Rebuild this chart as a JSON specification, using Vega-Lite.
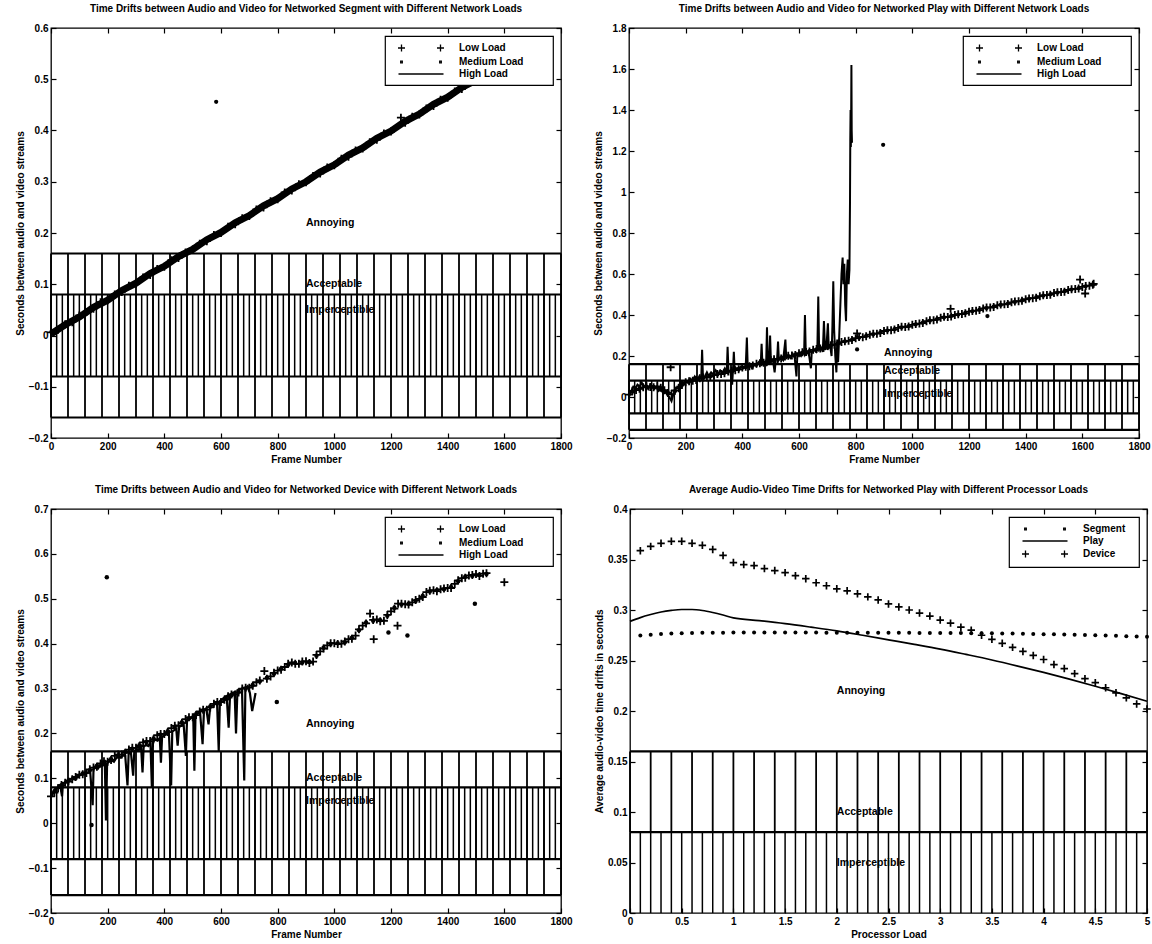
{
  "$schema": "https://vega.github.io/schema/vega-lite/v6.json",
  "background": "white",
  "padding": {"left": 14, "top": 3, "right": 0, "bottom": 0},
  "config": {
    "font": "Liberation Sans",
    "view": {"stroke": "black", "strokeWidth": 1.3},
    "axis": {
      "domain": false, "grid": false, "ticks": true, "tickSize": -5, "tickColor": "black", "tickWidth": 1.2,
      "labelFont": "Liberation Sans", "labelFontSize": 10, "labelFontWeight": "bold", "labelColor": "black",
      "labelPadding": 8, "labelFlush": false, "labelOverlap": false,
      "titleFont": "Liberation Sans", "titleFontSize": 10, "titleFontWeight": "bold", "titleColor": "black", "titlePadding": 3
    },
    "title": {"font": "Liberation Sans", "fontSize": 10, "fontWeight": "bold", "color": "black", "frame": "group", "anchor": "middle", "offset": 9},
    "legend": {
      "orient": "top-right", "offset": 8, "strokeColor": "black", "strokeWidth": 1.2, "fillColor": "white",
      "padding": 6, "rowPadding": 1, "symbolSize": 100, "symbolOffset": 24, "labelOffset": 32,
      "labelFont": "Liberation Sans", "labelFontSize": 10, "labelFontWeight": "bold", "labelColor": "black",
      "symbolStrokeWidth": 1.3, "symbolFillColor": "black", "symbolStrokeColor": "black",
      "titleOrient": "right", "titleFontSize": 10
    }
  },
  "datasets": {
    "fine1800": [{"f":0},{"f":20},{"f":40},{"f":60},{"f":80},{"f":100},{"f":120},{"f":140},{"f":160},{"f":180},{"f":200},{"f":220},{"f":240},{"f":260},{"f":280},{"f":300},{"f":320},{"f":340},{"f":360},{"f":380},{"f":400},{"f":420},{"f":440},{"f":460},{"f":480},{"f":500},{"f":520},{"f":540},{"f":560},{"f":580},{"f":600},{"f":620},{"f":640},{"f":660},{"f":680},{"f":700},{"f":720},{"f":740},{"f":760},{"f":780},{"f":800},{"f":820},{"f":840},{"f":860},{"f":880},{"f":900},{"f":920},{"f":940},{"f":960},{"f":980},{"f":1000},{"f":1020},{"f":1040},{"f":1060},{"f":1080},{"f":1100},{"f":1120},{"f":1140},{"f":1160},{"f":1180},{"f":1200},{"f":1220},{"f":1240},{"f":1260},{"f":1280},{"f":1300},{"f":1320},{"f":1340},{"f":1360},{"f":1380},{"f":1400},{"f":1420},{"f":1440},{"f":1460},{"f":1480},{"f":1500},{"f":1520},{"f":1540},{"f":1560},{"f":1580},{"f":1600},{"f":1620},{"f":1640},{"f":1660},{"f":1680},{"f":1700},{"f":1720},{"f":1740},{"f":1760},{"f":1780},{"f":1800}],
    "coarse1800": [{"f":0},{"f":60},{"f":120},{"f":180},{"f":240},{"f":300},{"f":360},{"f":420},{"f":480},{"f":540},{"f":600},{"f":660},{"f":720},{"f":780},{"f":840},{"f":900},{"f":960},{"f":1020},{"f":1080},{"f":1140},{"f":1200},{"f":1260},{"f":1320},{"f":1380},{"f":1440},{"f":1500},{"f":1560},{"f":1620},{"f":1680},{"f":1740},{"f":1800}],
    "fine5": [{"p":0},{"p":0.1},{"p":0.2},{"p":0.3},{"p":0.4},{"p":0.5},{"p":0.6},{"p":0.7},{"p":0.8},{"p":0.9},{"p":1},{"p":1.1},{"p":1.2},{"p":1.3},{"p":1.4},{"p":1.5},{"p":1.6},{"p":1.7},{"p":1.8},{"p":1.9},{"p":2},{"p":2.1},{"p":2.2},{"p":2.3},{"p":2.4},{"p":2.5},{"p":2.6},{"p":2.7},{"p":2.8},{"p":2.9},{"p":3},{"p":3.1},{"p":3.2},{"p":3.3},{"p":3.4},{"p":3.5},{"p":3.6},{"p":3.7},{"p":3.8},{"p":3.9},{"p":4},{"p":4.1},{"p":4.2},{"p":4.3},{"p":4.4},{"p":4.5},{"p":4.6},{"p":4.7},{"p":4.8},{"p":4.9},{"p":5}],
    "coarse5": [{"p":0},{"p":0.2},{"p":0.4},{"p":0.6},{"p":0.8},{"p":1},{"p":1.2},{"p":1.4},{"p":1.6},{"p":1.8},{"p":2},{"p":2.2},{"p":2.4},{"p":2.6},{"p":2.8},{"p":3},{"p":3.2},{"p":3.4},{"p":3.6},{"p":3.8},{"p":4},{"p":4.2},{"p":4.4},{"p":4.6},{"p":4.8},{"p":5}],
    "seg_low": [{"f":0,"v":0.006},{"f":25,"v":0.011},{"f":50,"v":0.022},{"f":75,"v":0.026},{"f":100,"v":0.039},{"f":125,"v":0.046},{"f":150,"v":0.052},{"f":175,"v":0.065},{"f":200,"v":0.069},{"f":225,"v":0.08},{"f":250,"v":0.085},{"f":275,"v":0.097},{"f":300,"v":0.101},{"f":325,"v":0.113},{"f":350,"v":0.118},{"f":375,"v":0.13},{"f":400,"v":0.134},{"f":425,"v":0.147},{"f":450,"v":0.151},{"f":475,"v":0.162},{"f":500,"v":0.168},{"f":525,"v":0.179},{"f":550,"v":0.184},{"f":575,"v":0.196},{"f":600,"v":0.2},{"f":625,"v":0.212},{"f":650,"v":0.217},{"f":675,"v":0.229},{"f":700,"v":0.233},{"f":725,"v":0.246},{"f":750,"v":0.25},{"f":775,"v":0.262},{"f":800,"v":0.266},{"f":825,"v":0.279},{"f":850,"v":0.283},{"f":875,"v":0.295},{"f":900,"v":0.299},{"f":925,"v":0.311},{"f":950,"v":0.316},{"f":975,"v":0.328},{"f":1000,"v":0.332},{"f":1025,"v":0.345},{"f":1050,"v":0.349},{"f":1075,"v":0.361},{"f":1100,"v":0.365},{"f":1125,"v":0.377},{"f":1150,"v":0.382},{"f":1175,"v":0.394},{"f":1200,"v":0.398},{"f":1235,"v":0.425},{"f":1250,"v":0.415},{"f":1275,"v":0.427},{"f":1300,"v":0.431},{"f":1325,"v":0.443},{"f":1350,"v":0.448},{"f":1375,"v":0.46},{"f":1400,"v":0.464},{"f":1425,"v":0.476},{"f":1450,"v":0.481},{"f":1475,"v":0.493},{"f":1500,"v":0.497},{"f":1525,"v":0.509},{"f":1550,"v":0.514},{"f":1575,"v":0.526},{"f":1600,"v":0.53},{"f":1625,"v":0.542}],
    "seg_med": [{"f":12,"v":0.006},{"f":37,"v":0.017},{"f":62,"v":0.023},{"f":87,"v":0.034},{"f":112,"v":0.04},{"f":137,"v":0.051},{"f":162,"v":0.056},{"f":187,"v":0.067},{"f":212,"v":0.073},{"f":237,"v":0.084},{"f":262,"v":0.089},{"f":287,"v":0.1},{"f":312,"v":0.106},{"f":337,"v":0.117},{"f":362,"v":0.122},{"f":387,"v":0.134},{"f":412,"v":0.139},{"f":437,"v":0.15},{"f":462,"v":0.155},{"f":487,"v":0.167},{"f":512,"v":0.172},{"f":537,"v":0.183},{"f":562,"v":0.188},{"f":583,"v":0.456},{"f":587,"v":0.199},{"f":612,"v":0.205},{"f":637,"v":0.216},{"f":662,"v":0.221},{"f":687,"v":0.232},{"f":712,"v":0.238},{"f":737,"v":0.249},{"f":762,"v":0.254},{"f":787,"v":0.265},{"f":812,"v":0.271},{"f":837,"v":0.282},{"f":862,"v":0.287},{"f":887,"v":0.298},{"f":912,"v":0.304},{"f":937,"v":0.315},{"f":962,"v":0.32},{"f":987,"v":0.331},{"f":1012,"v":0.337},{"f":1037,"v":0.348},{"f":1062,"v":0.353},{"f":1087,"v":0.364},{"f":1112,"v":0.37},{"f":1137,"v":0.381},{"f":1162,"v":0.386},{"f":1187,"v":0.397},{"f":1212,"v":0.403},{"f":1237,"v":0.414},{"f":1262,"v":0.419},{"f":1287,"v":0.43},{"f":1312,"v":0.436},{"f":1337,"v":0.447},{"f":1362,"v":0.452},{"f":1387,"v":0.463},{"f":1412,"v":0.469},{"f":1437,"v":0.48},{"f":1462,"v":0.485},{"f":1487,"v":0.496},{"f":1512,"v":0.502},{"f":1537,"v":0.513},{"f":1562,"v":0.518},{"f":1587,"v":0.529},{"f":1612,"v":0.535}],
    "seg_high": [{"f":0,"v":0.003},{"f":50,"v":0.021},{"f":100,"v":0.036},{"f":150,"v":0.055},{"f":200,"v":0.069},{"f":250,"v":0.088},{"f":300,"v":0.102},{"f":350,"v":0.121},{"f":400,"v":0.135},{"f":450,"v":0.154},{"f":500,"v":0.168},{"f":550,"v":0.187},{"f":600,"v":0.201},{"f":650,"v":0.22},{"f":700,"v":0.234},{"f":750,"v":0.253},{"f":800,"v":0.267},{"f":850,"v":0.286},{"f":900,"v":0.3},{"f":950,"v":0.319},{"f":1000,"v":0.333},{"f":1050,"v":0.352},{"f":1100,"v":0.366},{"f":1150,"v":0.385},{"f":1200,"v":0.399},{"f":1250,"v":0.418},{"f":1300,"v":0.432},{"f":1350,"v":0.451},{"f":1400,"v":0.465},{"f":1450,"v":0.484},{"f":1500,"v":0.498},{"f":1550,"v":0.517},{"f":1600,"v":0.531},{"f":1620,"v":0.539}],
    "play_low": [{"f":0,"v":0.012},{"f":25,"v":0.034},{"f":50,"v":0.047},{"f":75,"v":0.049},{"f":100,"v":0.052},{"f":125,"v":0.033},{"f":147,"v":0.145},{"f":150,"v":0.014},{"f":175,"v":0.043},{"f":200,"v":0.072},{"f":225,"v":0.079},{"f":250,"v":0.092},{"f":275,"v":0.096},{"f":300,"v":0.107},{"f":325,"v":0.112},{"f":350,"v":0.124},{"f":375,"v":0.131},{"f":400,"v":0.144},{"f":425,"v":0.15},{"f":450,"v":0.162},{"f":475,"v":0.167},{"f":500,"v":0.18},{"f":525,"v":0.185},{"f":550,"v":0.197},{"f":575,"v":0.202},{"f":600,"v":0.214},{"f":625,"v":0.219},{"f":650,"v":0.23},{"f":675,"v":0.236},{"f":700,"v":0.249},{"f":725,"v":0.255},{"f":750,"v":0.268},{"f":775,"v":0.274},{"f":800,"v":0.287},{"f":805,"v":0.31},{"f":825,"v":0.292},{"f":850,"v":0.304},{"f":875,"v":0.309},{"f":900,"v":0.322},{"f":925,"v":0.326},{"f":950,"v":0.337},{"f":975,"v":0.341},{"f":1000,"v":0.352},{"f":1025,"v":0.358},{"f":1050,"v":0.37},{"f":1075,"v":0.375},{"f":1100,"v":0.386},{"f":1125,"v":0.39},{"f":1135,"v":0.43},{"f":1150,"v":0.4},{"f":1175,"v":0.405},{"f":1200,"v":0.416},{"f":1225,"v":0.421},{"f":1250,"v":0.432},{"f":1275,"v":0.436},{"f":1300,"v":0.447},{"f":1325,"v":0.452},{"f":1350,"v":0.462},{"f":1375,"v":0.467},{"f":1400,"v":0.477},{"f":1425,"v":0.482},{"f":1450,"v":0.492},{"f":1475,"v":0.497},{"f":1500,"v":0.507},{"f":1525,"v":0.512},{"f":1550,"v":0.522},{"f":1575,"v":0.527},{"f":1592,"v":0.573},{"f":1600,"v":0.537},{"f":1610,"v":0.505},{"f":1625,"v":0.543},{"f":1640,"v":0.552},
      {"f":12,"v":0.03},{"f":37,"v":0.04},{"f":62,"v":0.052},{"f":87,"v":0.047},{"f":112,"v":0.045},{"f":137,"v":0.02},{"f":162,"v":0.032},{"f":187,"v":0.06},{"f":212,"v":0.077},{"f":237,"v":0.083},{"f":262,"v":0.095},{"f":287,"v":0.099},{"f":312,"v":0.112},{"f":337,"v":0.116},{"f":362,"v":0.128},{"f":387,"v":0.135},{"f":412,"v":0.148},{"f":437,"v":0.154},{"f":462,"v":0.165},{"f":487,"v":0.172},{"f":512,"v":0.184},{"f":537,"v":0.188},{"f":562,"v":0.201},{"f":587,"v":0.205},{"f":612,"v":0.218},{"f":637,"v":0.222},{"f":662,"v":0.234},{"f":687,"v":0.24},{"f":712,"v":0.253},{"f":737,"v":0.259},{"f":762,"v":0.272},{"f":787,"v":0.278},{"f":812,"v":0.293},{"f":837,"v":0.296},{"f":862,"v":0.309},{"f":887,"v":0.312},{"f":912,"v":0.326},{"f":937,"v":0.329},{"f":962,"v":0.343},{"f":987,"v":0.344},{"f":1012,"v":0.356},{"f":1037,"v":0.361},{"f":1062,"v":0.374},{"f":1087,"v":0.378},{"f":1112,"v":0.391},{"f":1137,"v":0.393},{"f":1162,"v":0.404},{"f":1187,"v":0.408},{"f":1212,"v":0.42},{"f":1237,"v":0.424},{"f":1262,"v":0.437},{"f":1287,"v":0.439},{"f":1312,"v":0.451},{"f":1337,"v":0.454},{"f":1362,"v":0.466},{"f":1387,"v":0.469},{"f":1412,"v":0.481},{"f":1437,"v":0.484},{"f":1462,"v":0.496},{"f":1487,"v":0.499},{"f":1512,"v":0.511},{"f":1537,"v":0.514},{"f":1562,"v":0.526},{"f":1587,"v":0.529},{"f":1612,"v":0.542},{"f":1637,"v":0.547}],
    "play_med": [{"f":12,"v":0.026},{"f":37,"v":0.042},{"f":62,"v":0.05},{"f":87,"v":0.049},{"f":112,"v":0.043},{"f":137,"v":0.022},{"f":162,"v":0.028},{"f":187,"v":0.058},{"f":212,"v":0.075},{"f":237,"v":0.085},{"f":262,"v":0.093},{"f":287,"v":0.101},{"f":312,"v":0.11},{"f":337,"v":0.118},{"f":362,"v":0.126},{"f":387,"v":0.137},{"f":412,"v":0.146},{"f":437,"v":0.156},{"f":462,"v":0.163},{"f":487,"v":0.174},{"f":512,"v":0.182},{"f":537,"v":0.19},{"f":562,"v":0.199},{"f":587,"v":0.207},{"f":612,"v":0.216},{"f":637,"v":0.224},{"f":662,"v":0.232},{"f":687,"v":0.242},{"f":712,"v":0.251},{"f":737,"v":0.261},{"f":762,"v":0.271},{"f":787,"v":0.28},{"f":805,"v":0.232},{"f":812,"v":0.289},{"f":837,"v":0.298},{"f":862,"v":0.306},{"f":887,"v":0.315},{"f":897,"v":1.23},{"f":912,"v":0.324},{"f":937,"v":0.331},{"f":962,"v":0.339},{"f":987,"v":0.346},{"f":1012,"v":0.354},{"f":1037,"v":0.363},{"f":1062,"v":0.372},{"f":1087,"v":0.38},{"f":1112,"v":0.388},{"f":1137,"v":0.395},{"f":1162,"v":0.402},{"f":1187,"v":0.41},{"f":1212,"v":0.418},{"f":1237,"v":0.426},{"f":1262,"v":0.434},{"f":1265,"v":0.395},{"f":1287,"v":0.441},{"f":1312,"v":0.449},{"f":1337,"v":0.456},{"f":1362,"v":0.464},{"f":1387,"v":0.471},{"f":1412,"v":0.479},{"f":1437,"v":0.486},{"f":1462,"v":0.494},{"f":1487,"v":0.501},{"f":1512,"v":0.509},{"f":1537,"v":0.516},{"f":1562,"v":0.524},{"f":1587,"v":0.531},{"f":1612,"v":0.54},{"f":1637,"v":0.549}],
    "play_high": [{"f":0,"v":0},{"f":8,"v":0.03},{"f":15,"v":0.05},{"f":22,"v":0.04},{"f":30,"v":0.06},{"f":38,"v":0.05},{"f":45,"v":0.07},{"f":52,"v":0.05},{"f":60,"v":0.06},{"f":68,"v":0.04},{"f":75,"v":0.06},{"f":82,"v":0.05},{"f":90,"v":0.04},{"f":98,"v":0.05},{"f":105,"v":0.03},{"f":112,"v":0.04},{"f":120,"v":0.02},{"f":128,"v":0.03},{"f":135,"v":0.01},{"f":142,"v":0},{"f":150,"v":-0.02},{"f":156,"v":0.01},{"f":162,"v":0.03},{"f":170,"v":0.05},{"f":178,"v":0.04},{"f":185,"v":0.07},{"f":192,"v":0.06},{"f":200,"v":0.08},{"f":208,"v":0.07},{"f":216,"v":0.09},{"f":224,"v":0.08},{"f":232,"v":0.1},{"f":240,"v":0.08},{"f":248,"v":0.1},{"f":255,"v":0.09},{"f":258,"v":0.23},{"f":261,"v":0.1},{"f":268,"v":0.1},{"f":275,"v":0.12},{"f":282,"v":0.1},{"f":290,"v":0.12},{"f":298,"v":0.11},{"f":306,"v":0.13},{"f":314,"v":0.11},{"f":322,"v":0.13},{"f":330,"v":0.12},{"f":338,"v":0.14},{"f":345,"v":0.12},{"f":348,"v":0.245},{"f":351,"v":0.13},{"f":358,"v":0.12},{"f":364,"v":0.06},{"f":367,"v":0.13},{"f":370,"v":0.22},{"f":373,"v":0.13},{"f":380,"v":0.14},{"f":388,"v":0.13},{"f":396,"v":0.15},{"f":404,"v":0.14},{"f":412,"v":0.15},{"f":416,"v":0.29},{"f":419,"v":0.15},{"f":426,"v":0.16},{"f":434,"v":0.14},{"f":442,"v":0.16},{"f":450,"v":0.15},{"f":458,"v":0.17},{"f":465,"v":0.16},{"f":468,"v":0.26},{"f":471,"v":0.16},{"f":478,"v":0.17},{"f":484,"v":0.16},{"f":487,"v":0.34},{"f":490,"v":0.17},{"f":495,"v":0.17},{"f":498,"v":0.3},{"f":501,"v":0.17},{"f":508,"v":0.18},{"f":514,"v":0.12},{"f":518,"v":0.18},{"f":523,"v":0.19},{"f":526,"v":0.27},{"f":529,"v":0.18},{"f":536,"v":0.19},{"f":544,"v":0.18},{"f":552,"v":0.28},{"f":555,"v":0.19},{"f":562,"v":0.2},{"f":570,"v":0.19},{"f":578,"v":0.21},{"f":585,"v":0.19},{"f":591,"v":0.1},{"f":594,"v":0.2},{"f":600,"v":0.21},{"f":607,"v":0.2},{"f":614,"v":0.22},{"f":618,"v":0.21},{"f":621,"v":0.4},{"f":624,"v":0.21},{"f":630,"v":0.22},{"f":636,"v":0.2},{"f":642,"v":0.14},{"f":645,"v":0.22},{"f":652,"v":0.23},{"f":660,"v":0.22},{"f":665,"v":0.25},{"f":668,"v":0.49},{"f":671,"v":0.23},{"f":678,"v":0.24},{"f":684,"v":0.22},{"f":688,"v":0.37},{"f":692,"v":0.23},{"f":697,"v":0.25},{"f":702,"v":0.36},{"f":705,"v":0.24},{"f":710,"v":0.25},{"f":715,"v":0.2},{"f":718,"v":0.35},{"f":721,"v":0.565},{"f":724,"v":0.33},{"f":728,"v":0.2},{"f":732,"v":0.12},{"f":735,"v":0.28},{"f":738,"v":0.17},{"f":742,"v":0.3},{"f":746,"v":0.45},{"f":750,"v":0.6},{"f":754,"v":0.68},{"f":757,"v":0.55},{"f":760,"v":0.65},{"f":763,"v":0.45},{"f":766,"v":0.37},{"f":769,"v":0.6},{"f":772,"v":0.67},{"f":775,"v":0.55},{"f":778,"v":0.62},{"f":780,"v":0.95},{"f":781,"v":1.25},{"f":782,"v":1.4},{"f":783,"v":1.22},{"f":784,"v":1.35},{"f":785,"v":1.62},{"f":786,"v":1.3},{"f":787,"v":1.24}],
    "dev_low": [{"f":0,"v":0.06},{"f":25,"v":0.078},{"f":50,"v":0.09},{"f":75,"v":0.098},{"f":100,"v":0.108},{"f":125,"v":0.112},{"f":150,"v":0.124},{"f":175,"v":0.133},{"f":200,"v":0.137},{"f":225,"v":0.15},{"f":250,"v":0.153},{"f":275,"v":0.164},{"f":300,"v":0.168},{"f":325,"v":0.18},{"f":350,"v":0.183},{"f":375,"v":0.196},{"f":400,"v":0.199},{"f":425,"v":0.212},{"f":450,"v":0.218},{"f":475,"v":0.232},{"f":500,"v":0.236},{"f":525,"v":0.249},{"f":550,"v":0.253},{"f":575,"v":0.266},{"f":600,"v":0.27},{"f":625,"v":0.283},{"f":650,"v":0.287},{"f":675,"v":0.3},{"f":700,"v":0.302},{"f":725,"v":0.314},{"f":753,"v":0.339},{"f":775,"v":0.327},{"f":800,"v":0.34},{"f":825,"v":0.348},{"f":850,"v":0.358},{"f":875,"v":0.355},{"f":900,"v":0.361},{"f":925,"v":0.36},{"f":950,"v":0.383},{"f":975,"v":0.396},{"f":1000,"v":0.401},{"f":1025,"v":0.4},{"f":1050,"v":0.41},{"f":1075,"v":0.418},{"f":1100,"v":0.44},{"f":1126,"v":0.467},{"f":1139,"v":0.41},{"f":1150,"v":0.454},{"f":1175,"v":0.451},{"f":1200,"v":0.472},{"f":1223,"v":0.44},{"f":1225,"v":0.489},{"f":1250,"v":0.488},{"f":1275,"v":0.492},{"f":1300,"v":0.5},{"f":1325,"v":0.515},{"f":1350,"v":0.519},{"f":1375,"v":0.521},{"f":1400,"v":0.524},{"f":1425,"v":0.533},{"f":1450,"v":0.546},{"f":1475,"v":0.552},{"f":1500,"v":0.555},{"f":1525,"v":0.556},{"f":1600,"v":0.537},
      {"f":12,"v":0.068},{"f":37,"v":0.085},{"f":62,"v":0.093},{"f":87,"v":0.103},{"f":112,"v":0.109},{"f":137,"v":0.12},{"f":162,"v":0.126},{"f":187,"v":0.138},{"f":212,"v":0.141},{"f":237,"v":0.153},{"f":262,"v":0.157},{"f":287,"v":0.168},{"f":312,"v":0.172},{"f":337,"v":0.183},{"f":362,"v":0.187},{"f":387,"v":0.199},{"f":412,"v":0.203},{"f":437,"v":0.217},{"f":462,"v":0.223},{"f":487,"v":0.236},{"f":512,"v":0.241},{"f":537,"v":0.253},{"f":562,"v":0.258},{"f":587,"v":0.27},{"f":612,"v":0.275},{"f":637,"v":0.287},{"f":662,"v":0.291},{"f":687,"v":0.302},{"f":712,"v":0.306},{"f":737,"v":0.318},{"f":762,"v":0.322},{"f":787,"v":0.335},{"f":812,"v":0.342},{"f":837,"v":0.355},{"f":862,"v":0.355},{"f":887,"v":0.36},{"f":912,"v":0.357},{"f":937,"v":0.375},{"f":962,"v":0.389},{"f":987,"v":0.401},{"f":1012,"v":0.399},{"f":1037,"v":0.405},{"f":1062,"v":0.411},{"f":1087,"v":0.432},{"f":1112,"v":0.445},{"f":1137,"v":0.453},{"f":1162,"v":0.45},{"f":1187,"v":0.464},{"f":1212,"v":0.478},{"f":1237,"v":0.489},{"f":1262,"v":0.487},{"f":1287,"v":0.497},{"f":1312,"v":0.504},{"f":1337,"v":0.518},{"f":1362,"v":0.517},{"f":1387,"v":0.523},{"f":1412,"v":0.524},{"f":1437,"v":0.541},{"f":1462,"v":0.547},{"f":1487,"v":0.553},{"f":1512,"v":0.551},{"f":1537,"v":0.557}],
    "dev_med": [{"f":12,"v":0.071},{"f":37,"v":0.082},{"f":62,"v":0.095},{"f":87,"v":0.101},{"f":112,"v":0.111},{"f":137,"v":0.118},{"f":143,"v":-0.004},{"f":162,"v":0.128},{"f":187,"v":0.136},{"f":197,"v":0.548},{"f":212,"v":0.143},{"f":237,"v":0.151},{"f":262,"v":0.159},{"f":287,"v":0.166},{"f":312,"v":0.174},{"f":337,"v":0.181},{"f":362,"v":0.189},{"f":387,"v":0.197},{"f":412,"v":0.205},{"f":437,"v":0.215},{"f":462,"v":0.225},{"f":487,"v":0.234},{"f":512,"v":0.243},{"f":537,"v":0.251},{"f":562,"v":0.26},{"f":587,"v":0.268},{"f":612,"v":0.277},{"f":637,"v":0.285},{"f":662,"v":0.293},{"f":687,"v":0.3},{"f":712,"v":0.308},{"f":737,"v":0.316},{"f":762,"v":0.324},{"f":787,"v":0.333},{"f":797,"v":0.27},{"f":812,"v":0.344},{"f":837,"v":0.353},{"f":862,"v":0.357},{"f":887,"v":0.358},{"f":912,"v":0.359},{"f":937,"v":0.373},{"f":962,"v":0.391},{"f":987,"v":0.399},{"f":1012,"v":0.401},{"f":1037,"v":0.403},{"f":1062,"v":0.413},{"f":1087,"v":0.43},{"f":1112,"v":0.447},{"f":1137,"v":0.451},{"f":1162,"v":0.452},{"f":1187,"v":0.462},{"f":1191,"v":0.425},{"f":1212,"v":0.48},{"f":1237,"v":0.487},{"f":1258,"v":0.418},{"f":1262,"v":0.489},{"f":1287,"v":0.495},{"f":1312,"v":0.506},{"f":1337,"v":0.516},{"f":1362,"v":0.519},{"f":1387,"v":0.521},{"f":1412,"v":0.526},{"f":1437,"v":0.539},{"f":1462,"v":0.549},{"f":1487,"v":0.551},{"f":1496,"v":0.489},{"f":1512,"v":0.553},{"f":1537,"v":0.555}],
    "dev_high": [{"f":0,"v":0.058},{"f":8,"v":0.068},{"f":16,"v":0.075},{"f":24,"v":0.08},{"f":32,"v":0.085},{"f":39,"v":0.06},{"f":42,"v":0.088},{"f":50,"v":0.092},{"f":58,"v":0.095},{"f":66,"v":0.097},{"f":74,"v":0.1},{"f":82,"v":0.098},{"f":90,"v":0.104},{"f":98,"v":0.106},{"f":106,"v":0.108},{"f":114,"v":0.11},{"f":122,"v":0.114},{"f":130,"v":0.112},{"f":138,"v":0.118},{"f":147,"v":0.04},{"f":150,"v":0.12},{"f":158,"v":0.125},{"f":166,"v":0.122},{"f":174,"v":0.13},{"f":182,"v":0.128},{"f":190,"v":0.135},{"f":194,"v":0.006},{"f":198,"v":0.133},{"f":206,"v":0.138},{"f":214,"v":0.14},{"f":222,"v":0.137},{"f":230,"v":0.145},{"f":238,"v":0.148},{"f":246,"v":0.146},{"f":254,"v":0.152},{"f":262,"v":0.15},{"f":270,"v":0.084},{"f":274,"v":0.155},{"f":282,"v":0.158},{"f":290,"v":0.106},{"f":294,"v":0.16},{"f":302,"v":0.165},{"f":310,"v":0.163},{"f":318,"v":0.17},{"f":323,"v":0.113},{"f":327,"v":0.17},{"f":335,"v":0.175},{"f":343,"v":0.172},{"f":351,"v":0.18},{"f":356,"v":0.08},{"f":360,"v":0.182},{"f":368,"v":0.186},{"f":376,"v":0.184},{"f":384,"v":0.19},{"f":388,"v":0.135},{"f":392,"v":0.192},{"f":400,"v":0.196},{"f":408,"v":0.198},{"f":416,"v":0.203},{"f":424,"v":0.084},{"f":428,"v":0.204},{"f":436,"v":0.208},{"f":442,"v":0.21},{"f":447,"v":0.173},{"f":452,"v":0.214},{"f":460,"v":0.218},{"f":468,"v":0.222},{"f":476,"v":0.15},{"f":480,"v":0.228},{"f":488,"v":0.232},{"f":496,"v":0.235},{"f":502,"v":0.24},{"f":506,"v":0.117},{"f":510,"v":0.24},{"f":518,"v":0.245},{"f":526,"v":0.248},{"f":535,"v":0.176},{"f":540,"v":0.252},{"f":548,"v":0.256},{"f":556,"v":0.22},{"f":562,"v":0.26},{"f":570,"v":0.262},{"f":578,"v":0.265},{"f":586,"v":0.27},{"f":592,"v":0.161},{"f":596,"v":0.272},{"f":604,"v":0.276},{"f":612,"v":0.279},{"f":620,"v":0.283},{"f":627,"v":0.213},{"f":632,"v":0.286},{"f":640,"v":0.29},{"f":648,"v":0.292},{"f":653,"v":0.2},{"f":658,"v":0.296},{"f":666,"v":0.298},{"f":674,"v":0.3},{"f":682,"v":0.095},{"f":686,"v":0.3},{"f":694,"v":0.305},{"f":702,"v":0.29},{"f":710,"v":0.25},{"f":716,"v":0.27},{"f":722,"v":0.29}],
    "proc_segment": [{"p":0.1,"v":0.2748},{"p":0.2,"v":0.2755},{"p":0.3,"v":0.2762},{"p":0.4,"v":0.2768},{"p":0.5,"v":0.2771},{"p":0.6,"v":0.2773},{"p":0.7,"v":0.2774},{"p":0.8,"v":0.2775},{"p":0.9,"v":0.2775},{"p":1,"v":0.2776},{"p":1.1,"v":0.2776},{"p":1.2,"v":0.2776},{"p":1.3,"v":0.2776},{"p":1.4,"v":0.2776},{"p":1.5,"v":0.2776},{"p":1.6,"v":0.2776},{"p":1.7,"v":0.2776},{"p":1.8,"v":0.2776},{"p":1.9,"v":0.2775},{"p":2,"v":0.2775},{"p":2.1,"v":0.2775},{"p":2.2,"v":0.2775},{"p":2.3,"v":0.2775},{"p":2.4,"v":0.2774},{"p":2.5,"v":0.2774},{"p":2.6,"v":0.2774},{"p":2.7,"v":0.2774},{"p":2.8,"v":0.2773},{"p":2.9,"v":0.2773},{"p":3,"v":0.2773},{"p":3.1,"v":0.2772},{"p":3.2,"v":0.2772},{"p":3.3,"v":0.2771},{"p":3.4,"v":0.277},{"p":3.5,"v":0.2769},{"p":3.6,"v":0.2768},{"p":3.7,"v":0.2767},{"p":3.8,"v":0.2765},{"p":3.9,"v":0.2763},{"p":4,"v":0.2761},{"p":4.1,"v":0.2759},{"p":4.2,"v":0.2757},{"p":4.3,"v":0.2755},{"p":4.4,"v":0.2752},{"p":4.5,"v":0.275},{"p":4.6,"v":0.2747},{"p":4.7,"v":0.2744},{"p":4.8,"v":0.2741},{"p":4.9,"v":0.2738},{"p":5,"v":0.2735}],
    "proc_play": [{"p":0,"v":0.2887},{"p":0.1,"v":0.2925},{"p":0.2,"v":0.2955},{"p":0.3,"v":0.298},{"p":0.4,"v":0.2996},{"p":0.5,"v":0.3005},{"p":0.6,"v":0.3005},{"p":0.7,"v":0.2995},{"p":0.8,"v":0.2975},{"p":0.9,"v":0.295},{"p":1,"v":0.2922},{"p":1.25,"v":0.2895},{"p":1.5,"v":0.2865},{"p":1.75,"v":0.283},{"p":2,"v":0.2793},{"p":2.25,"v":0.275},{"p":2.5,"v":0.2705},{"p":2.75,"v":0.266},{"p":3,"v":0.2613},{"p":3.25,"v":0.256},{"p":3.5,"v":0.2505},{"p":3.75,"v":0.2445},{"p":4,"v":0.2382},{"p":4.25,"v":0.2315},{"p":4.5,"v":0.2245},{"p":4.75,"v":0.2172},{"p":5,"v":0.2097}],
    "proc_device": [{"p":0.1,"v":0.3587},{"p":0.2,"v":0.363},{"p":0.3,"v":0.366},{"p":0.4,"v":0.368},{"p":0.5,"v":0.368},{"p":0.6,"v":0.366},{"p":0.7,"v":0.364},{"p":0.8,"v":0.36},{"p":0.9,"v":0.354},{"p":1,"v":0.347},{"p":1.1,"v":0.345},{"p":1.2,"v":0.344},{"p":1.3,"v":0.341},{"p":1.4,"v":0.339},{"p":1.5,"v":0.337},{"p":1.6,"v":0.334},{"p":1.7,"v":0.331},{"p":1.8,"v":0.327},{"p":1.9,"v":0.324},{"p":2,"v":0.321},{"p":2.1,"v":0.319},{"p":2.2,"v":0.316},{"p":2.3,"v":0.313},{"p":2.4,"v":0.31},{"p":2.5,"v":0.306},{"p":2.6,"v":0.303},{"p":2.7,"v":0.3},{"p":2.8,"v":0.297},{"p":2.9,"v":0.294},{"p":3,"v":0.29},{"p":3.1,"v":0.287},{"p":3.2,"v":0.283},{"p":3.3,"v":0.28},{"p":3.4,"v":0.275},{"p":3.5,"v":0.271},{"p":3.6,"v":0.267},{"p":3.7,"v":0.263},{"p":3.8,"v":0.259},{"p":3.9,"v":0.255},{"p":4,"v":0.251},{"p":4.1,"v":0.246},{"p":4.2,"v":0.242},{"p":4.3,"v":0.237},{"p":4.4,"v":0.232},{"p":4.5,"v":0.228},{"p":4.6,"v":0.223},{"p":4.7,"v":0.218},{"p":4.8,"v":0.213},{"p":4.9,"v":0.207},{"p":5,"v":0.202}]
  },
  "resolve": {"scale": {"shape": "independent"}, "legend": {"shape": "independent"}},
  "spacing": 19,
  "vconcat": [
    {
      "spacing": 19,
      "resolve": {"scale": {"shape": "independent"}, "legend": {"shape": "independent"}},
      "hconcat": [
        {
          "width": 510, "height": 410,
          "title": "Time Drifts between Audio and Video for Networked Segment with Different Network Loads",
          "resolve": {"axis": {"x": "independent", "y": "independent"}},
          "layer": [
            {"data": {"name": "fine1800"}, "mark": {"type": "rule", "color": "black", "strokeWidth": 1.5},
             "encoding": {
               "x": {"field": "f", "type": "quantitative", "scale": {"domain": [0, 1800], "nice": false}, "axis": {"values": [0,200,400,600,800,1000,1200,1400,1600,1800], "format": "~r", "title": "Frame Number"}},
               "y": {"datum": -0.08, "type": "quantitative", "scale": {"domain": [-0.2, 0.6], "nice": false}, "axis": {"values": [-0.2,-0.1,0,0.1,0.2,0.3,0.4,0.5,0.6], "format": "~r", "title": "Seconds between audio and video streams"}},
               "y2": {"datum": 0.08}}},
            {"data": {"name": "coarse1800"}, "mark": {"type": "rule", "color": "black", "strokeWidth": 1.8},
             "encoding": {
               "x": {"field": "f", "type": "quantitative", "axis": {"orient": "top", "values": [0,200,400,600,800,1000,1200,1400,1600,1800], "labels": false, "title": null}},
               "y": {"datum": -0.16, "type": "quantitative", "axis": {"orient": "right", "values": [-0.2,-0.1,0,0.1,0.2,0.3,0.4,0.5,0.6], "labels": false, "title": null}},
               "y2": {"datum": 0.16}}},
            {"data": {"values": [{"b": -0.16}, {"b": -0.08}, {"b": 0.08}, {"b": 0.16}]}, "mark": {"type": "rule", "color": "black", "strokeWidth": 2.2},
             "encoding": {"y": {"field": "b", "type": "quantitative", "axis": null}}},
            {"data": {"name": "seg_high"}, "mark": {"type": "line", "color": "black", "strokeWidth": 7},
             "encoding": {"x": {"field": "f", "type": "quantitative", "axis": null}, "y": {"field": "v", "type": "quantitative", "axis": null}}},
            {"data": {"name": "seg_med"}, "mark": {"type": "circle", "color": "black", "size": 18, "opacity": 1},
             "encoding": {"x": {"field": "f", "type": "quantitative", "axis": null}, "y": {"field": "v", "type": "quantitative", "axis": null}}},
            {"data": {"name": "seg_low"}, "mark": {"type": "point", "shape": "M-1,0H1M0,-1V1", "size": 64, "color": "black", "strokeWidth": 1.8, "opacity": 1},
             "encoding": {"x": {"field": "f", "type": "quantitative", "axis": null}, "y": {"field": "v", "type": "quantitative", "axis": null}}},
            {"data": {"values": [{}]}, "mark": {"type": "text", "text": "Annoying", "align": "left", "baseline": "middle", "fontSize": 10.5, "fontWeight": "bold", "color": "black"},
             "encoding": {"x": {"datum": 900, "type": "quantitative", "axis": null}, "y": {"datum": 0.22, "type": "quantitative", "axis": null}}},
            {"data": {"values": [{}]}, "mark": {"type": "text", "text": "Acceptable", "align": "left", "baseline": "middle", "fontSize": 10.5, "fontWeight": "bold", "color": "black"},
             "encoding": {"x": {"datum": 900, "type": "quantitative", "axis": null}, "y": {"datum": 0.1, "type": "quantitative", "axis": null}}},
            {"data": {"values": [{}]}, "mark": {"type": "text", "text": "Imperceptible", "align": "left", "baseline": "middle", "fontSize": 10.5, "fontWeight": "bold", "color": "black"},
             "encoding": {"x": {"datum": 900, "type": "quantitative", "axis": null}, "y": {"datum": 0.05, "type": "quantitative", "axis": null}}},
            {"data": {"values": [{"s": "Low Load"}, {"s": "Medium Load"}, {"s": "High Load"}]}, "transform": [{"filter": "false"}],
             "mark": {"type": "point", "filled": false, "stroke": "black", "strokeWidth": 1.3, "size": 100, "opacity": 1},
             "encoding": {"shape": {"field": "s", "type": "nominal",
               "scale": {"domain": ["Low Load", "Medium Load", "High Load"], "range": ["M-4.6,0H-3.2M-3.9,-0.7V0.7M3.2,0H4.6M3.9,-0.7V0.7", "M-4.06,-0.16h0.32v0.32h-0.32zM3.74,-0.16h0.32v0.32h-0.32z", "M-4.5,0H4.5"]},
               "legend": {"title": " ", "titlePadding": 24}}}}
          ]
        },
        {
          "width": 510, "height": 410,
          "title": "Time Drifts between Audio and Video for Networked Play with Different Network Loads",
          "resolve": {"axis": {"x": "independent", "y": "independent"}},
          "layer": [
            {"data": {"name": "fine1800"}, "mark": {"type": "rule", "color": "black", "strokeWidth": 1.5},
             "encoding": {
               "x": {"field": "f", "type": "quantitative", "scale": {"domain": [0, 1800], "nice": false}, "axis": {"values": [0,200,400,600,800,1000,1200,1400,1600,1800], "format": "~r", "title": "Frame Number"}},
               "y": {"datum": -0.08, "type": "quantitative", "scale": {"domain": [-0.2, 1.8], "nice": false}, "axis": {"values": [-0.2,0,0.2,0.4,0.6,0.8,1,1.2,1.4,1.6,1.8], "format": "~r", "title": "Seconds between audio and video streams"}},
               "y2": {"datum": 0.08}}},
            {"data": {"name": "coarse1800"}, "mark": {"type": "rule", "color": "black", "strokeWidth": 1.8},
             "encoding": {
               "x": {"field": "f", "type": "quantitative", "axis": {"orient": "top", "values": [0,200,400,600,800,1000,1200,1400,1600,1800], "labels": false, "title": null}},
               "y": {"datum": -0.16, "type": "quantitative", "axis": {"orient": "right", "values": [-0.2,0,0.2,0.4,0.6,0.8,1,1.2,1.4,1.6,1.8], "labels": false, "title": null}},
               "y2": {"datum": 0.16}}},
            {"data": {"values": [{"b": -0.16}, {"b": -0.08}, {"b": 0.08}, {"b": 0.16}]}, "mark": {"type": "rule", "color": "black", "strokeWidth": 2.2},
             "encoding": {"y": {"field": "b", "type": "quantitative", "axis": null}}},
            {"data": {"name": "play_high"}, "mark": {"type": "line", "color": "black", "strokeWidth": 2},
             "encoding": {"x": {"field": "f", "type": "quantitative", "axis": null}, "y": {"field": "v", "type": "quantitative", "axis": null}}},
            {"data": {"name": "play_med"}, "mark": {"type": "circle", "color": "black", "size": 18, "opacity": 1},
             "encoding": {"x": {"field": "f", "type": "quantitative", "axis": null}, "y": {"field": "v", "type": "quantitative", "axis": null}}},
            {"data": {"name": "play_low"}, "mark": {"type": "point", "shape": "M-1,0H1M0,-1V1", "size": 64, "color": "black", "strokeWidth": 1.8, "opacity": 1},
             "encoding": {"x": {"field": "f", "type": "quantitative", "axis": null}, "y": {"field": "v", "type": "quantitative", "axis": null}}},
            {"data": {"values": [{}]}, "mark": {"type": "text", "text": "Annoying", "align": "left", "baseline": "middle", "fontSize": 10.5, "fontWeight": "bold", "color": "black"},
             "encoding": {"x": {"datum": 900, "type": "quantitative", "axis": null}, "y": {"datum": 0.215, "type": "quantitative", "axis": null}}},
            {"data": {"values": [{}]}, "mark": {"type": "text", "text": "Acceptable", "align": "left", "baseline": "middle", "fontSize": 10.5, "fontWeight": "bold", "color": "black"},
             "encoding": {"x": {"datum": 900, "type": "quantitative", "axis": null}, "y": {"datum": 0.125, "type": "quantitative", "axis": null}}},
            {"data": {"values": [{}]}, "mark": {"type": "text", "text": "Imperceptible", "align": "left", "baseline": "middle", "fontSize": 10.5, "fontWeight": "bold", "color": "black"},
             "encoding": {"x": {"datum": 900, "type": "quantitative", "axis": null}, "y": {"datum": 0.015, "type": "quantitative", "axis": null}}},
            {"data": {"values": [{"s": "Low Load"}, {"s": "Medium Load"}, {"s": "High Load"}]}, "transform": [{"filter": "false"}],
             "mark": {"type": "point", "filled": false, "stroke": "black", "strokeWidth": 1.3, "size": 100, "opacity": 1},
             "encoding": {"shape": {"field": "s", "type": "nominal",
               "scale": {"domain": ["Low Load", "Medium Load", "High Load"], "range": ["M-4.6,0H-3.2M-3.9,-0.7V0.7M3.2,0H4.6M3.9,-0.7V0.7", "M-4.06,-0.16h0.32v0.32h-0.32zM3.74,-0.16h0.32v0.32h-0.32z", "M-4.5,0H4.5"]},
               "legend": {"title": " ", "titlePadding": 24}}}}
          ]
        }
      ]
    },
    {
      "spacing": 20,
      "resolve": {"scale": {"shape": "independent"}, "legend": {"shape": "independent"}},
      "hconcat": [
        {
          "width": 510, "height": 404,
          "title": "Time Drifts between Audio and Video for Networked Device with Different Network Loads",
          "resolve": {"axis": {"x": "independent", "y": "independent"}},
          "layer": [
            {"data": {"name": "fine1800"}, "mark": {"type": "rule", "color": "black", "strokeWidth": 1.5},
             "encoding": {
               "x": {"field": "f", "type": "quantitative", "scale": {"domain": [0, 1800], "nice": false}, "axis": {"values": [0,200,400,600,800,1000,1200,1400,1600,1800], "format": "~r", "title": "Frame Number"}},
               "y": {"datum": -0.08, "type": "quantitative", "scale": {"domain": [-0.2, 0.7], "nice": false}, "axis": {"values": [-0.2,-0.1,0,0.1,0.2,0.3,0.4,0.5,0.6,0.7], "format": "~r", "title": "Seconds between audio and video streams"}},
               "y2": {"datum": 0.08}}},
            {"data": {"name": "coarse1800"}, "mark": {"type": "rule", "color": "black", "strokeWidth": 1.8},
             "encoding": {
               "x": {"field": "f", "type": "quantitative", "axis": {"orient": "top", "values": [0,200,400,600,800,1000,1200,1400,1600,1800], "labels": false, "title": null}},
               "y": {"datum": -0.16, "type": "quantitative", "axis": {"orient": "right", "values": [-0.2,-0.1,0,0.1,0.2,0.3,0.4,0.5,0.6,0.7], "labels": false, "title": null}},
               "y2": {"datum": 0.16}}},
            {"data": {"values": [{"b": -0.16}, {"b": -0.08}, {"b": 0.08}, {"b": 0.16}]}, "mark": {"type": "rule", "color": "black", "strokeWidth": 2.2},
             "encoding": {"y": {"field": "b", "type": "quantitative", "axis": null}}},
            {"data": {"name": "dev_high"}, "mark": {"type": "line", "color": "black", "strokeWidth": 2.2},
             "encoding": {"x": {"field": "f", "type": "quantitative", "axis": null}, "y": {"field": "v", "type": "quantitative", "axis": null}}},
            {"data": {"name": "dev_med"}, "mark": {"type": "circle", "color": "black", "size": 20, "opacity": 1},
             "encoding": {"x": {"field": "f", "type": "quantitative", "axis": null}, "y": {"field": "v", "type": "quantitative", "axis": null}}},
            {"data": {"name": "dev_low"}, "mark": {"type": "point", "shape": "M-1,0H1M0,-1V1", "size": 64, "color": "black", "strokeWidth": 1.8, "opacity": 1},
             "encoding": {"x": {"field": "f", "type": "quantitative", "axis": null}, "y": {"field": "v", "type": "quantitative", "axis": null}}},
            {"data": {"values": [{}]}, "mark": {"type": "text", "text": "Annoying", "align": "left", "baseline": "middle", "fontSize": 10.5, "fontWeight": "bold", "color": "black"},
             "encoding": {"x": {"datum": 900, "type": "quantitative", "axis": null}, "y": {"datum": 0.22, "type": "quantitative", "axis": null}}},
            {"data": {"values": [{}]}, "mark": {"type": "text", "text": "Acceptable", "align": "left", "baseline": "middle", "fontSize": 10.5, "fontWeight": "bold", "color": "black"},
             "encoding": {"x": {"datum": 900, "type": "quantitative", "axis": null}, "y": {"datum": 0.1, "type": "quantitative", "axis": null}}},
            {"data": {"values": [{}]}, "mark": {"type": "text", "text": "Imperceptible", "align": "left", "baseline": "middle", "fontSize": 10.5, "fontWeight": "bold", "color": "black"},
             "encoding": {"x": {"datum": 900, "type": "quantitative", "axis": null}, "y": {"datum": 0.05, "type": "quantitative", "axis": null}}},
            {"data": {"values": [{"s": "Low Load"}, {"s": "Medium Load"}, {"s": "High Load"}]}, "transform": [{"filter": "false"}],
             "mark": {"type": "point", "filled": false, "stroke": "black", "strokeWidth": 1.3, "size": 100, "opacity": 1},
             "encoding": {"shape": {"field": "s", "type": "nominal",
               "scale": {"domain": ["Low Load", "Medium Load", "High Load"], "range": ["M-4.6,0H-3.2M-3.9,-0.7V0.7M3.2,0H4.6M3.9,-0.7V0.7", "M-4.06,-0.16h0.32v0.32h-0.32zM3.74,-0.16h0.32v0.32h-0.32z", "M-4.5,0H4.5"]},
               "legend": {"title": " ", "titlePadding": 24}}}}
          ]
        },
        {
          "width": 517, "height": 404,
          "title": "Average Audio-Video Time Drifts for Networked Play with Different Processor Loads",
          "resolve": {"axis": {"x": "independent", "y": "independent"}},
          "layer": [
            {"data": {"name": "fine5"}, "mark": {"type": "rule", "color": "black", "strokeWidth": 1.5},
             "encoding": {
               "x": {"field": "p", "type": "quantitative", "scale": {"domain": [0, 5], "nice": false}, "axis": {"values": [0,0.5,1,1.5,2,2.5,3,3.5,4,4.5,5], "format": "~r", "title": "Processor Load"}},
               "y": {"datum": 0, "type": "quantitative", "scale": {"domain": [0, 0.4], "nice": false}, "axis": {"values": [0,0.05,0.1,0.15,0.2,0.25,0.3,0.35,0.4], "format": "~r", "title": "Average audio-video time drifts in seconds"}},
               "y2": {"datum": 0.08}}},
            {"data": {"name": "coarse5"}, "mark": {"type": "rule", "color": "black", "strokeWidth": 1.8},
             "encoding": {
               "x": {"field": "p", "type": "quantitative", "axis": {"orient": "top", "values": [0,0.5,1,1.5,2,2.5,3,3.5,4,4.5,5], "labels": false, "title": null}},
               "y": {"datum": 0.08, "type": "quantitative", "axis": {"orient": "right", "values": [0,0.05,0.1,0.15,0.2,0.25,0.3,0.35,0.4], "labels": false, "title": null}},
               "y2": {"datum": 0.16}}},
            {"data": {"values": [{"b": 0.08}, {"b": 0.16}]}, "mark": {"type": "rule", "color": "black", "strokeWidth": 2.2},
             "encoding": {"y": {"field": "b", "type": "quantitative", "axis": null}}},
            {"data": {"name": "proc_play"}, "mark": {"type": "line", "color": "black", "strokeWidth": 1.7, "interpolate": "monotone"},
             "encoding": {"x": {"field": "p", "type": "quantitative", "axis": null}, "y": {"field": "v", "type": "quantitative", "axis": null}}},
            {"data": {"name": "proc_segment"}, "mark": {"type": "circle", "color": "black", "size": 16, "opacity": 1},
             "encoding": {"x": {"field": "p", "type": "quantitative", "axis": null}, "y": {"field": "v", "type": "quantitative", "axis": null}}},
            {"data": {"name": "proc_device"}, "mark": {"type": "point", "shape": "M-1,0H1M0,-1V1", "size": 56, "color": "black", "strokeWidth": 1.7, "opacity": 1},
             "encoding": {"x": {"field": "p", "type": "quantitative", "axis": null}, "y": {"field": "v", "type": "quantitative", "axis": null}}},
            {"data": {"values": [{}]}, "mark": {"type": "text", "text": "Annoying", "align": "left", "baseline": "middle", "fontSize": 10.5, "fontWeight": "bold", "color": "black"},
             "encoding": {"x": {"datum": 2, "type": "quantitative", "axis": null}, "y": {"datum": 0.22, "type": "quantitative", "axis": null}}},
            {"data": {"values": [{}]}, "mark": {"type": "text", "text": "Acceptable", "align": "left", "baseline": "middle", "fontSize": 10.5, "fontWeight": "bold", "color": "black"},
             "encoding": {"x": {"datum": 2, "type": "quantitative", "axis": null}, "y": {"datum": 0.1, "type": "quantitative", "axis": null}}},
            {"data": {"values": [{}]}, "mark": {"type": "text", "text": "Imperceptible", "align": "left", "baseline": "middle", "fontSize": 10.5, "fontWeight": "bold", "color": "black"},
             "encoding": {"x": {"datum": 2, "type": "quantitative", "axis": null}, "y": {"datum": 0.05, "type": "quantitative", "axis": null}}},
            {"data": {"values": [{"s": "Segment"}, {"s": "Play"}, {"s": "Device"}]}, "transform": [{"filter": "false"}],
             "mark": {"type": "point", "filled": false, "stroke": "black", "strokeWidth": 1.3, "size": 100, "opacity": 1},
             "encoding": {"shape": {"field": "s", "type": "nominal",
               "scale": {"domain": ["Segment", "Play", "Device"], "range": ["M-4.06,-0.16h0.32v0.32h-0.32zM3.74,-0.16h0.32v0.32h-0.32z", "M-4.5,0H4.5", "M-4.6,0H-3.2M-3.9,-0.7V0.7M3.2,0H4.6M3.9,-0.7V0.7"]},
               "legend": {"title": " ", "titlePadding": 8}}}}
          ]
        }
      ]
    }
  ]
}
